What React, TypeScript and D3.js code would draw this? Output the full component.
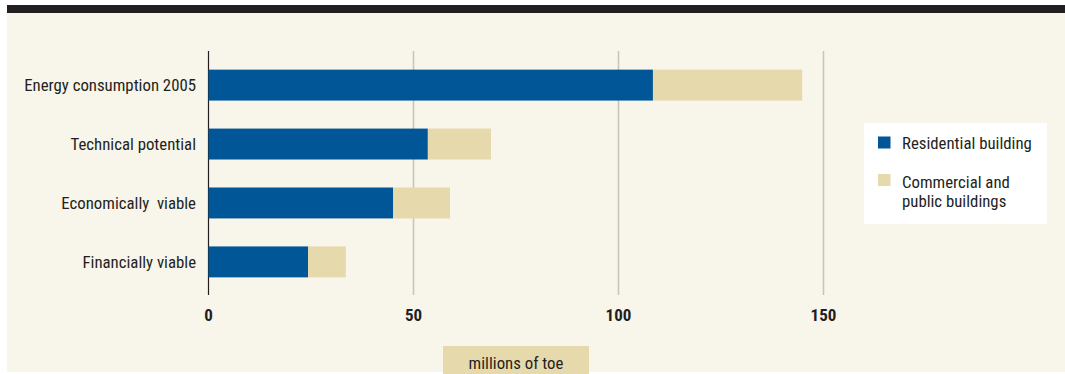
import React from "react";
import * as d3 from "d3";

const categories = ["Energy consumption 2005", "Technical potential", "Economically  viable", "Financially viable"];
const residential = [108.4, 53.5, 45, 24.3];
const commercial = [36.4, 15.4, 13.9, 9.2];
const ticks = [0, 50, 100, 150];
const seriesNames = ["Residential building", "Commercial and|public buildings"];
const colors = ["#005696", "#e6d9ab"];

const W = 1065;
const H = 374;
const FONT = "'Liberation Sans Narrow', 'Roboto Condensed', Roboto, sans-serif";

export default function App() {
  const x = d3.scaleLinear().domain([0, 150]).range([208.5, 823.5]);
  const y = d3.scaleBand().domain(categories).range([55.5, 291.5]).paddingInner(0.475).paddingOuter(0.24);
  const stack = categories.map((c, i) => ({ c, r: residential[i], t: residential[i] + commercial[i] }));
  return (
    <svg width={W} height={H} style={{ position: "absolute", left: 0, top: 0 }} fontFamily={FONT}>
      <rect x={0} y={0} width={W} height={H} fill="#ffffff" />
      <rect x={7} y={5} width={W - 7} height={H - 7} fill="#f8f5eb" />
      <rect x={7} y={5} width={W - 7} height={8} fill="#231f20" />
      {ticks.map((t) => (
        <line key={t} x1={x(t)} x2={x(t)} y1={51} y2={295} stroke={t === 0 ? "#231f20" : "#c8c5bd"} strokeWidth={t === 0 ? 1.2 : 1.6} />
      ))}
      {stack.map((d) => (
        <g key={d.c}>
          <rect x={x(0)} y={y(d.c)} width={x(d.r) - x(0)} height={y.bandwidth()} fill={colors[0]} />
          <rect x={x(d.r)} y={y(d.c)} width={x(d.t) - x(d.r)} height={y.bandwidth()} fill={colors[1]} />
          <text x={196} y={(y(d.c) as number) + y.bandwidth() / 2} dy="0.36em" textAnchor="end" fontSize={16.8} fill="#231f20" style={{ whiteSpace: "pre" }}>{d.c}</text>
        </g>
      ))}
      {ticks.map((t) => (
        <text key={"l" + t} x={x(t)} y={321} textAnchor="middle" fontSize={17} fontWeight="bold" fill="#231f20">{t}</text>
      ))}
      <rect x={443} y={346} width={146} height={30} fill={colors[1]} />
      <text x={516} y={369} textAnchor="middle" fontSize={16.8} fill="#231f20">millions of toe</text>
      <rect x={864} y={123} width={183} height={101} fill="#ffffff" />
      {seriesNames.map((s, i) => (
        <g key={s}>
          <rect x={878} y={[136.5, 174][i]} width={12.5} height={12} fill={colors[i]} />
          {s.split("|").map((ln, j) => (
            <text key={j} x={902} y={[148.5, 188][i] + j * 19} fontSize={16.8} fill="#231f20">{ln}</text>
          ))}
        </g>
      ))}
    </svg>
  );
}
